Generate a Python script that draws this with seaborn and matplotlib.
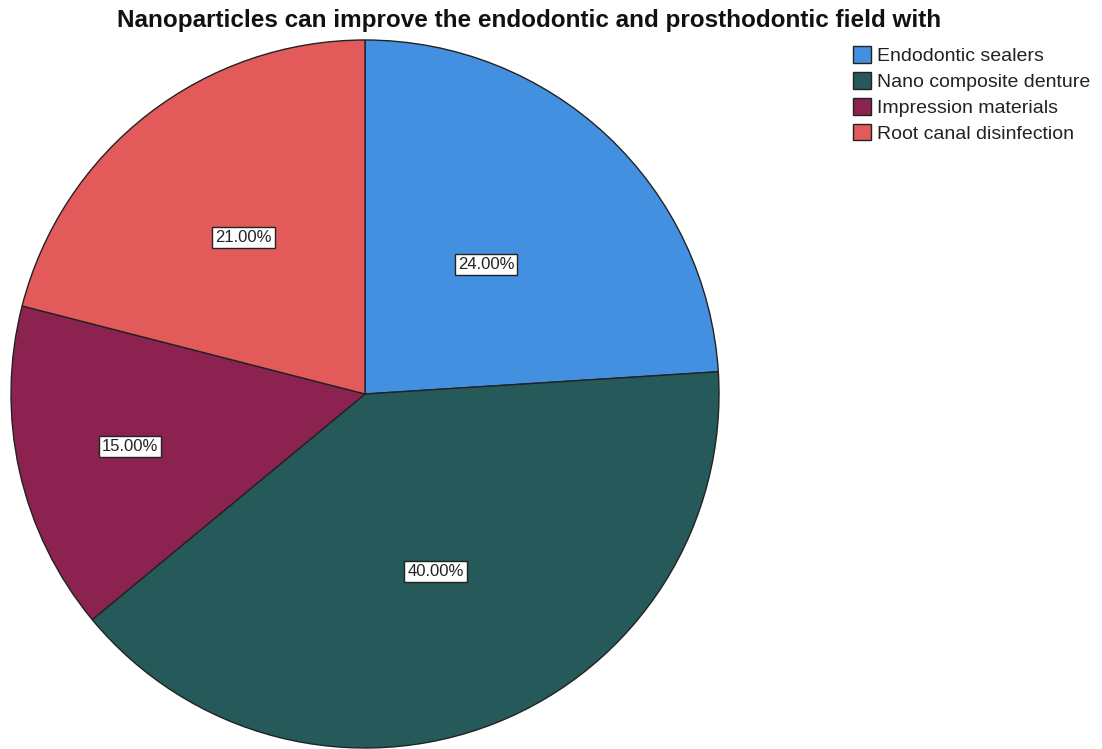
import matplotlib
matplotlib.use("Agg")
import numpy as np
import matplotlib.pyplot as plt
import seaborn as sns

sns.set_theme(style="white")
plt.rcParams["font.family"] = ["Liberation Sans", "DejaVu Sans"]

categories = ["Endodontic sealers", "Nano composite denture",
              "Impression materials", "Root canal disinfection"]
shares = [24.0, 40.0, 15.0, 21.0]
colors = ["#4390E0", "#265A5A", "#8B2250", "#E35A5A"]
title = "Nanoparticles can improve the endodontic and prosthodontic field with"

# radial placement of each percentage label (fraction of the radius)
label_radius = [0.50, 0.54, 0.68, 0.56]

fig = plt.figure(figsize=(11.02, 7.49), dpi=100)
ax = fig.add_axes([11 / 1102, 1 / 749, 708 / 1102, 708 / 749])

wedges, texts, autotexts = ax.pie(
    shares,
    colors=colors,
    startangle=90,
    counterclock=False,
    autopct=lambda p: f"{p:.2f}%",
    pctdistance=0.5,
    wedgeprops=dict(edgecolor="#222222", linewidth=1.0),
    textprops=dict(fontsize=12, color="#222222"),
)
for w, t, r in zip(wedges, autotexts, label_radius):
    mid = np.deg2rad((w.theta1 + w.theta2) / 2)
    t.set_position((r * np.cos(mid), r * np.sin(mid)))
    t.set_bbox(dict(boxstyle="square,pad=0.18", facecolor="white",
                    edgecolor="#222222", linewidth=1.0))
ax.set_xlim(-1, 1)
ax.set_ylim(-1, 1)
ax.set_aspect("equal")

fig.text(0.480, 0.972, title, ha="center", va="center",
         fontsize=17.5, fontweight="bold", color="#111111")

fig.legend(wedges, categories, loc="upper left",
           bbox_to_anchor=(853 / 1102, 1 - 46 / 749),
           frameon=False, fontsize=14, handlelength=0.95, handleheight=0.95,
           handletextpad=0.3, labelspacing=0.35, borderaxespad=0,
           borderpad=0, labelcolor="#222222")

fig.savefig("out.png", dpi=100)
